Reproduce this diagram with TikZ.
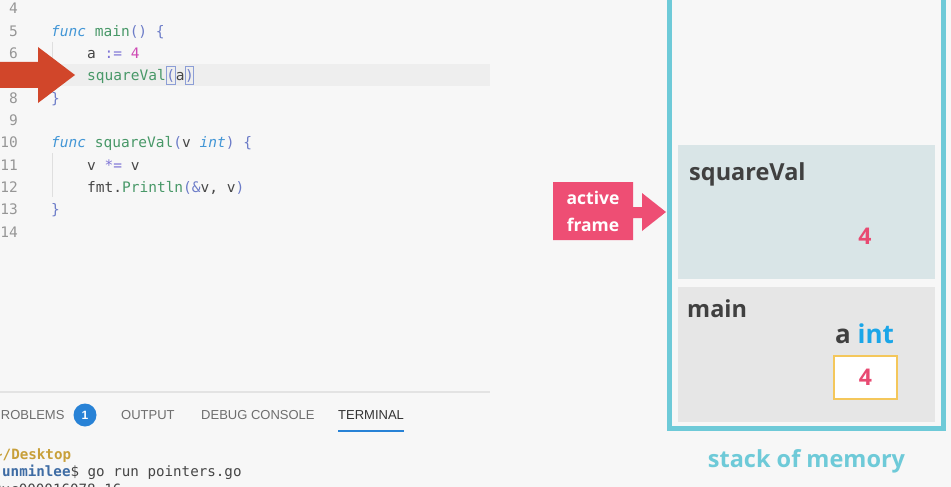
\documentclass[tikz,border=0pt]{standalone}
\usepackage{fontspec}
\setmonofont{DejaVu Sans Mono}
\newfontfamily\uifont{Open Sans}
\newfontfamily\tabfont{Liberation Sans}
\usetikzlibrary{positioning}
\definecolor{EditorBg}{RGB}{247,247,247}
\definecolor{LineHl}{RGB}{238,238,238}
\definecolor{LineNum}{RGB}{150,150,150}
\definecolor{Ident}{RGB}{70,70,70}
\definecolor{KwBlue}{RGB}{66,150,214}
\definecolor{FnGreen}{RGB}{72,152,104}
\definecolor{Punct}{RGB}{108,124,200}
\definecolor{OpPurple}{RGB}{126,116,214}
\definecolor{NumMagenta}{RGB}{206,74,180}
\definecolor{BrkBox}{RGB}{140,158,214}
\definecolor{CursorRed}{RGB}{209,70,42}
\definecolor{TabGray}{RGB}{110,110,110}
\definecolor{TabBlue}{RGB}{40,130,214}
\definecolor{TermGold}{RGB}{200,160,58}
\definecolor{TermBlue}{RGB}{62,108,164}
\definecolor{StackCyan}{RGB}{110,202,216}
\definecolor{ActiveFrame}{RGB}{217,229,231}
\definecolor{MainFrame}{RGB}{230,230,230}
\definecolor{LabelDark}{RGB}{64,64,64}
\definecolor{ValPink}{RGB}{232,74,114}
\definecolor{IntBlue}{RGB}{26,166,232}
\definecolor{CellYellow}{RGB}{244,199,91}
\definecolor{CalloutPink}{RGB}{238,78,116}

\begin{document}
\begin{tikzpicture}[
  x=1pt, y=-1pt,
  code/.style={anchor=base west, inner sep=0pt, font=\fontsize{14.5}{17}\ttfamily, text=Ident},
  lnum/.style={anchor=base east, inner sep=0pt, font=\fontsize{14.5}{17}\ttfamily, text=LineNum},
  brk/.style={code, draw=BrkBox, line width=0.9pt, text height=14pt, text depth=4pt},
  tab/.style={anchor=base west, inner sep=0pt, font=\fontsize{13}{15}\tabfont, text=TabGray},
  term/.style={anchor=base west, inner sep=0pt, font=\fontsize{14.2}{17}\ttfamily, text=Ident},
  lbl/.style={anchor=base west, inner sep=0pt, font=\fontsize{23.5}{27}\uifont\bfseries, text=LabelDark},
  val/.style={inner sep=0pt, font=\fontsize{23}{26}\uifont\bfseries, text=ValPink},
  callout/.style={inner sep=0pt, font=\fontsize{17.5}{20}\uifont\bfseries, text=white},
]
\clip (0,0) rectangle (951,487);
\fill[EditorBg] (0,0) rectangle (951,487);
%% Editor
\fill[LineHl] (0,64) rectangle (490,86);
\draw[gray!25, line width=0.8pt] (52,42) -- (52,86);
\draw[gray!25, line width=0.8pt] (52,153) -- (52,197);
\foreach \n/\y in {4/14, 5/36.3, 6/58.6, 7/80.9, 8/103.2, 9/125.5, 10/147.8, 11/170.1, 12/192.4, 13/214.7, 14/237}
  \node[lnum] (ln\n) at (18,\y) {\n};
\node[code] (l5) at (51,36.3) {\textcolor{KwBlue}{\itshape func} \textcolor{FnGreen}{main}\textcolor{Punct}{() \{}};
\node[code] (l6) at (87,58.6) {a \textcolor{OpPurple}{:=} \textcolor{NumMagenta}{4}};
\node[code, text=FnGreen] (call) at (87,80.9) {squareVal};
\node[brk, text=Punct] (lpar) at (call.base east) {(};
\node[code] (arg) at (lpar.base east) {a};
\node[brk, text=Punct] (rpar) at (arg.base east) {)};
\node[code, text=Punct] (l8) at (51,103.2) {\}};
\node[code] (l10) at (51,147.8) {\textcolor{KwBlue}{\itshape func} \textcolor{FnGreen}{squareVal}\textcolor{Punct}{(}v \textcolor{KwBlue}{\itshape int}\textcolor{Punct}{) \{}};
\node[code] (l11) at (87,170.1) {v \textcolor{OpPurple}{*=} v};
\node[code] (l12) at (87,192.4) {fmt.\textcolor{FnGreen}{Println}\textcolor{Punct}{(\&}v, v\textcolor{Punct}{)}};
\node[code, text=Punct] (l13) at (51,214.7) {\}};
%% Current line marker
\fill[CursorRed] (-2,62) -- (38,62) -- (38,47) -- (75,75) -- (38,103) -- (38,88) -- (-2,88) -- cycle;
%% Panel tabs
\draw[gray!22, line width=1.2pt] (0,392) -- (490,392);
\node[tab] (problems) at (-8,419.6) {PROBLEMS};
\fill[TabBlue] (85,415) circle (11.5);
\node[inner sep=0pt, font=\fontsize{12}{14}\tabfont\bfseries, text=white] (badge) at (85,415) {1};
\node[tab] (output) at (121,419.6) {OUTPUT};
\node[tab] (debug) at (201,419.6) {DEBUG CONSOLE};
\node[tab, text=black!80] (terminal) at (338,419.6) {TERMINAL};
\draw[TabBlue, line width=1.8pt] (terminal.west |- 0,431) -- (terminal.east |- 0,431);
%% Terminal
\node[term, text=TermGold, font=\fontsize{14.2}{17}\ttfamily\bfseries] (cwd) at (-6,459) {\textasciitilde/Desktop};
\node[term] (cmd) at (2,476) {\textcolor{TermBlue}{\bfseries unminlee}\$ go run pointers.go};
\node[term] (out) at (-7,494) {0xc000016078 16};
%% Stack of memory
\fill[ActiveFrame] (678,145) rectangle (935,279);
\fill[MainFrame] (678,287) rectangle (935,422);
\draw[StackCyan, line width=5pt] (669.5,-10) -- (669.5,428.5) -- (943,428.5) -- (943,-10);
\node[lbl] (sqname) at (689,180) {squareVal};
\node[val] (sqval) at (865,236) {4};
\node[lbl] (mainname) at (687,317) {main};
\node[lbl, font=\fontsize{26}{29}\uifont\bfseries] (avar) at (835,343) {a \textcolor{IntBlue}{int}};
\node[val, draw=CellYellow, line width=2.2pt, fill=white, minimum width=63pt, minimum height=43pt] (acell) at (865.5,377.5) {4};
\node[inner sep=0pt, font=\fontsize{23.5}{27}\uifont\bfseries, text=StackCyan] (stackname) at (806.5,461) {stack of memory};
%% Active frame callout
\fill[CalloutPink] (553,182) -- (633,182) -- (633,207) -- (642,207) -- (642,193) -- (666,212) -- (642,231) -- (642,218) -- (633,218) -- (633,240) -- (553,240) -- cycle;
\node[callout] (act1) at (593,198) {active};
\node[callout] (act2) at (593,225) {frame};
\end{tikzpicture}
\end{document}
